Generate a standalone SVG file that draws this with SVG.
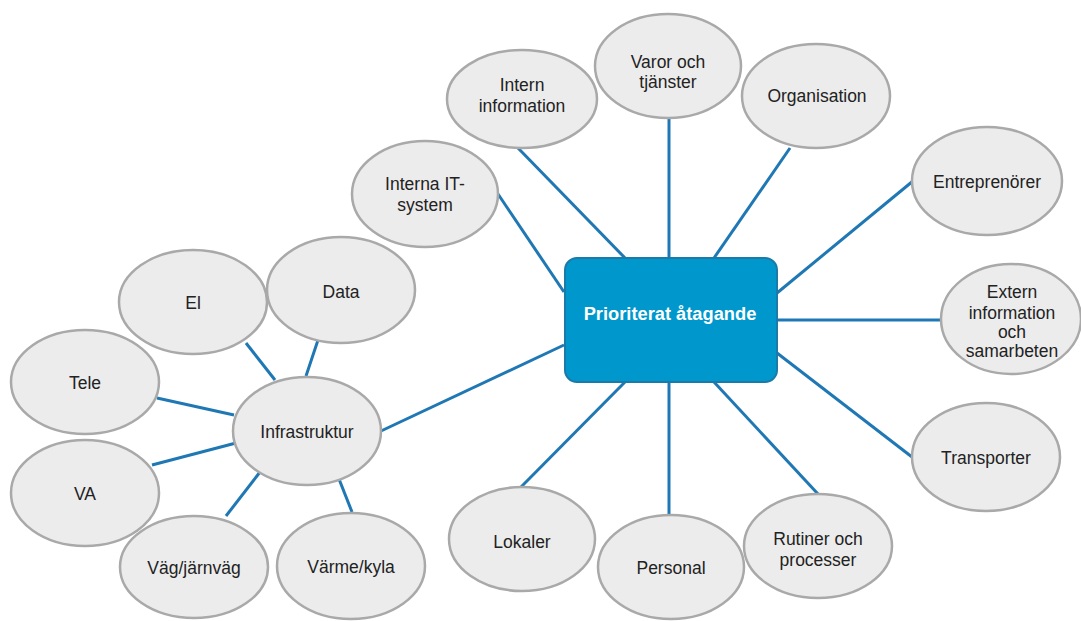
<svg xmlns="http://www.w3.org/2000/svg" width="1081" height="621" viewBox="0 0 1081 621">
<style>
.c{stroke:#1f78b4;stroke-width:3;fill:none}
.n ellipse{fill:#ececec;stroke:#a9a9a9;stroke-width:2.5}
.n text{font-family:"Liberation Sans",Arial,sans-serif;font-size:17.5px;fill:#222;text-anchor:middle}
.hub rect{fill:#0097cc;stroke:#1b7aa8;stroke-width:2}
.hub text{font-family:"Liberation Sans",Arial,sans-serif;font-size:18.3px;font-weight:bold;fill:#fff;text-anchor:middle}
</style>
<rect width="1081" height="621" fill="#fff"/>
<g id="connectors">
<line class="c" x1="518" y1="148" x2="625" y2="258"/>
<line class="c" x1="669" y1="118" x2="669" y2="258"/>
<line class="c" x1="790" y1="148" x2="714" y2="258"/>
<line class="c" x1="913" y1="181" x2="777" y2="293"/>
<line class="c" x1="941" y1="320" x2="777" y2="320"/>
<line class="c" x1="912" y1="457" x2="777" y2="353"/>
<line class="c" x1="818" y1="494" x2="714" y2="382"/>
<line class="c" x1="669" y1="515" x2="669" y2="382"/>
<line class="c" x1="521" y1="487" x2="625" y2="382"/>
<line class="c" x1="498" y1="194" x2="564" y2="292"/>
<line class="c" x1="381" y1="431" x2="564" y2="345"/>
<line class="c" x1="318" y1="340" x2="306" y2="376"/>
<line class="c" x1="246" y1="343" x2="275" y2="380"/>
<line class="c" x1="157" y1="398" x2="234" y2="415"/>
<line class="c" x1="152" y1="465" x2="236" y2="443"/>
<line class="c" x1="226" y1="516" x2="260" y2="472"/>
<line class="c" x1="339" y1="479" x2="352" y2="512"/>
</g>
<g id="hub" class="hub"><rect x="565" y="258" width="212" height="124" rx="12"/><text x="670" y="320">Prioriterat åtagande</text></g>
<g id="intern-information" class="n"><ellipse cx="522" cy="99" rx="75" ry="49"/><text x="522" y="91">Intern</text><text x="522" y="112">information</text></g>
<g id="varor" class="n"><ellipse cx="668" cy="66" rx="73" ry="52"/><text x="668" y="68">Varor och</text><text x="668" y="88">tjänster</text></g>
<g id="organisation" class="n"><ellipse cx="816" cy="96" rx="74" ry="52"/><text x="817" y="102">Organisation</text></g>
<g id="entreprenorer" class="n"><ellipse cx="987" cy="181" rx="75" ry="54"/><text x="987" y="188">Entreprenörer</text></g>
<g id="extern" class="n"><ellipse cx="1011" cy="319" rx="70" ry="55"/><text x="1012" y="298">Extern</text><text x="1012" y="319">information</text><text x="1012" y="338">och</text><text x="1012" y="357">samarbeten</text></g>
<g id="transporter" class="n"><ellipse cx="986" cy="457" rx="74" ry="54"/><text x="986" y="464">Transporter</text></g>
<g id="rutiner" class="n"><ellipse cx="818" cy="546" rx="74" ry="52"/><text x="818" y="545">Rutiner och</text><text x="818" y="566">processer</text></g>
<g id="personal" class="n"><ellipse cx="671" cy="567" rx="73" ry="52"/><text x="671" y="574">Personal</text></g>
<g id="lokaler" class="n"><ellipse cx="522" cy="539" rx="73" ry="52"/><text x="522" y="548">Lokaler</text></g>
<g id="interna-it" class="n"><ellipse cx="425" cy="194" rx="73" ry="53"/><text x="425" y="190">Interna IT-</text><text x="425" y="211">system</text></g>
<g id="infrastruktur" class="n"><ellipse cx="307" cy="431" rx="74" ry="54"/><text x="307" y="438">Infrastruktur</text></g>
<g id="data" class="n"><ellipse cx="341" cy="290" rx="74" ry="53"/><text x="341" y="298">Data</text></g>
<g id="el" class="n"><ellipse cx="193" cy="302" rx="74" ry="52"/><text x="193" y="309">El</text></g>
<g id="tele" class="n"><ellipse cx="85" cy="382" rx="74" ry="52"/><text x="85" y="389">Tele</text></g>
<g id="va" class="n"><ellipse cx="85" cy="493" rx="74" ry="53"/><text x="85" y="500">VA</text></g>
<g id="vag" class="n"><ellipse cx="194" cy="567" rx="74" ry="51"/><text x="194" y="574">Väg/järnväg</text></g>
<g id="varme" class="n"><ellipse cx="351" cy="566" rx="74" ry="53"/><text x="351" y="573">Värme/kyla</text></g>
</svg>
